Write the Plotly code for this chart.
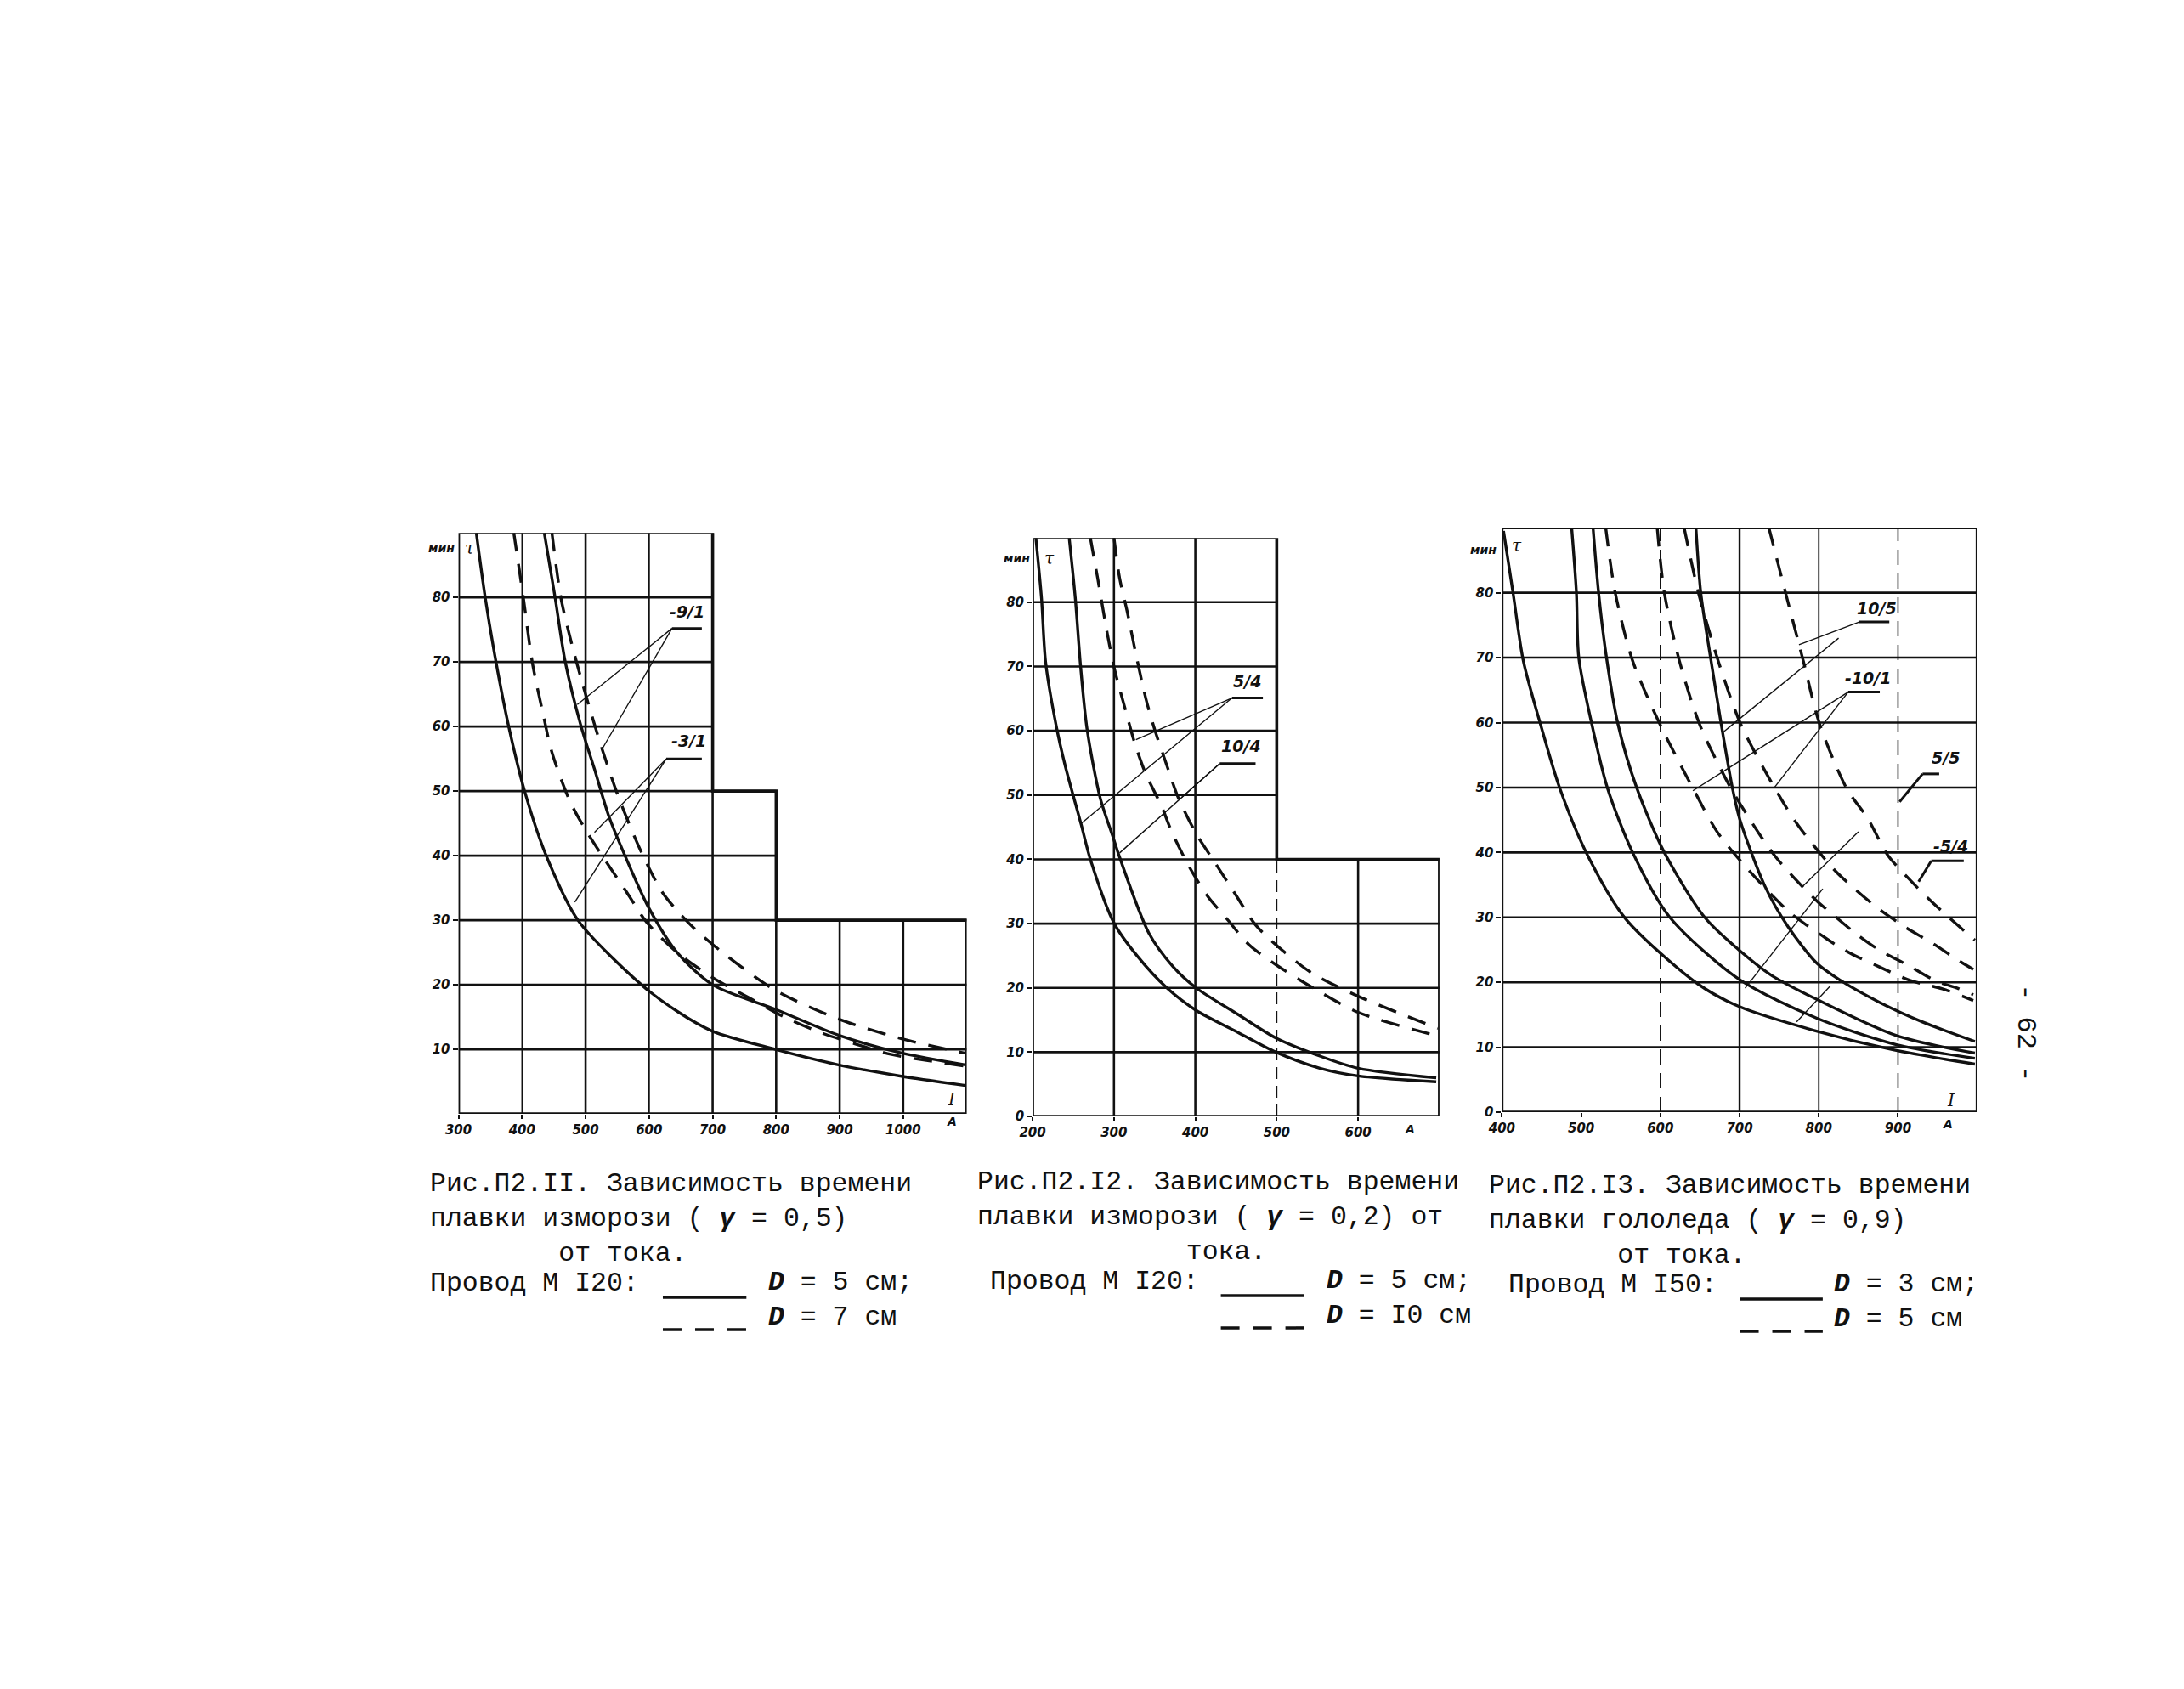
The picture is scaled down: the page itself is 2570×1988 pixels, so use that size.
import plotly.graph_objects as go

W, H = 2570, 1988

# ---------------- Chart 1: Рис. П2.11 (current, A -> time, min) ----------------
C1_S1_I = [328, 342, 359, 379, 404, 438, 488, 588, 644, 700, 799, 898, 999, 1098]
C1_S1_T = [90, 80, 70, 60, 50, 40, 30, 20, 15.9, 12.8, 10, 7.6, 5.8, 4.4]
C1_S2_I = [435, 452, 468, 493, 514, 537, 562, 599, 644, 700, 799, 898, 999, 1098]
C1_S2_T = [90, 80, 70, 60, 53.4, 46, 40, 32, 25, 20, 16.2, 12.2, 9.4, 7.6]
C1_DA_I = [387, 402, 416, 433, 447, 475, 500, 526, 565, 596, 644, 700, 757, 813, 870, 926, 982, 1098]
C1_DA_T = [90, 80, 70, 62, 56, 48.5, 44, 40, 34.3, 29.7, 25, 21.1, 18, 15.0, 12.6, 10.8, 9.2, 7.4]
C1_DB_I = [447, 461, 475, 497, 526, 554, 588, 621, 661, 703, 796, 898, 999, 1098]
C1_DB_T = [90, 80, 74, 66, 56.5, 48.5, 40.5, 34.3, 29.7, 26, 19.3, 14.7, 11.6, 9.4]
C1_XTICKS = [300, 400, 500, 600, 700, 800, 900, 1000]
C1_YTICKS = [10, 20, 30, 40, 50, 60, 70, 80]
C1_STEPS = [(700, 90), (800, 50), (1100, 30)]
C1_LABELS = ["-9/1", "-3/1"]

# ---------------- Chart 2: Рис. П2.12 ----------------
C2_S1_I = [204, 211, 216, 229, 240, 260, 271, 300, 329, 365, 401, 452, 499, 553, 600, 696]
C2_S1_T = [90, 80.6, 70.7, 60.8, 54.6, 45.3, 40, 30.1, 24.9, 20, 16.5, 13.1, 10, 7.5, 6.3, 5.4]
C2_S2_I = [245, 252.5, 259, 267, 283, 299, 307, 343, 372, 401, 452, 499, 553, 600, 696]
C2_S2_T = [90, 80.6, 70, 60.2, 49.6, 43.4, 40.3, 28.5, 23.4, 20, 15.9, 12.2, 9.4, 7.5, 6.0]
C2_D1_I = [271, 280, 292, 301, 314, 325, 339, 358, 372, 394, 416, 437, 466, 499, 542, 600, 698]
C2_D1_T = [90, 83.7, 75, 69.4, 63.3, 58.3, 53.3, 48.4, 44, 38.5, 34.1, 31, 26.7, 23.6, 20.2, 16.2, 12.5]
C2_D2_I = [300, 307, 316, 327, 339, 350, 365, 379, 401, 423, 448, 474, 499, 542, 600, 698]
C2_D2_T = [90, 83.7, 78.7, 71.9, 65.1, 60.2, 54.6, 49.6, 44, 39.7, 34.8, 29.8, 26.7, 22.4, 18.7, 13.7]
C2_XTICKS = [200, 300, 400, 500, 600]
C2_YTICKS = [0, 10, 20, 30, 40, 50, 60, 70, 80]
C2_STEPS = [(500, 90), (700, 40)]
C2_LABELS = ["5/4", "10/4"]

# ---------------- Chart 3: Рис. П2.13 ----------------
C3_S1_I = [402, 414, 427, 449, 473, 508, 556, 648, 699, 794, 894, 997]
C3_S1_T = [89.5, 80, 69.5, 59.6, 49.9, 39.6, 29.8, 19.7, 16.3, 12.6, 9.6, 7.4]
C3_S2_I = [488, 494, 497, 513, 533, 565, 612, 699, 797, 898, 997]
C3_S2_T = [90, 80, 70, 60, 50, 40, 30, 20.5, 14.5, 10.4, 8.3]
C3_S3_I = [515, 522, 532, 546, 570, 605, 656, 699, 740, 797, 898, 997]
C3_S3_T = [90, 80, 70, 60, 50, 40, 30, 25, 21.1, 17.4, 11.8, 9.1]
C3_S4_I = [645, 651, 664, 677, 691, 700, 732, 761, 797, 826, 877, 931, 997]
C3_S4_T = [89.8, 80, 69.5, 59.6, 49.9, 45.2, 34.8, 28.6, 23, 20.4, 16.9, 13.9, 10.9]
C3_D1_I = [531, 543, 565, 600, 641, 671, 704, 761, 786, 804, 825, 844, 876, 915, 956, 995]
C3_D1_T = [90, 80, 69.5, 59.6, 49.9, 43.3, 38.3, 31.0, 28.7, 27.2, 25.5, 24.2, 22.4, 20.3, 19, 17.2]
C3_D2_I = [596, 605, 624, 650, 689, 729, 747, 771, 797, 822, 848, 876, 913, 948, 975, 995]
C3_D2_T = [90, 80, 69.5, 59.6, 49.9, 42.1, 39.1, 35.8, 32.6, 30.0, 27.4, 25.0, 22.6, 20.2, 19.1, 18.1]
C3_D3_I = [630, 648, 673, 702, 744, 772, 819, 848, 876, 909, 945, 977, 995]
C3_D3_T = [90, 80, 69.5, 59.6, 50, 44.5, 37.4, 34.1, 31.3, 28.5, 25.9, 23.3, 22.0]
C3_D4_I = [737, 758, 780, 801, 835, 862, 887, 914, 941, 966, 997]
C3_D4_T = [90, 80, 69.7, 59.8, 49.9, 45.2, 39.6, 35.9, 32.6, 29.8, 26.5]
C3_XTICKS = [400, 500, 600, 700, 800, 900]
C3_YTICKS = [0, 10, 20, 30, 40, 50, 60, 70, 80]
C3_STEPS = [(1000, 90)]
C3_LABELS = ["10/5", "-10/1", "5/5", "-5/4"]

# captions (title block lines, wire line, legend lines)
NB = "\u00a0"
CAP1_TITLE = ["Рис.П2.II. Зависимость времени", "плавки изморози ( <b><i>γ</i></b> = 0,5)", NB * 8 + "от тока."]
CAP1_WIRE = "Провод М I20:"
CAP1_D = ["<b><i>D</i></b> = 5 см;", "<b><i>D</i></b> = 7 см"]
CAP2_TITLE = ["Рис.П2.I2. Зависимость времени", "плавки изморози ( <b><i>γ</i></b> = 0,2) от", NB * 13 + "тока."]
CAP2_WIRE = "Провод М I20:"
CAP2_D = ["<b><i>D</i></b> = 5 см;", "<b><i>D</i></b> = I0 см"]
CAP3_TITLE = ["Рис.П2.I3. Зависимость времени", "плавки гололеда ( <b><i>γ</i></b> = 0,9)", NB * 8 + "от тока."]
CAP3_WIRE = "Провод М I50:"
CAP3_D = ["<b><i>D</i></b> = 3 см;", "<b><i>D</i></b> = 5 см"]
PAGE_NO = "- 62 -"

# ---------------- layout geometry (pixels) ----------------
BOX = {
    "1": dict(x0=518, x1=1120, y0=622, y1=1309, xr=[300, 1100]),
    "2": dict(x0=1198, x1=1680, y0=628, y1=1312, xr=[200, 700]),
    "3": dict(x0=1754, x1=2317, y0=616, y1=1307, xr=[400, 1000]),
}

def px(x):
    return x / W

def py(y):
    return 1 - y / H

fig = go.Figure()

SOLID_W = 3.4
DASH_W = 3.4
DASH = "22px,15px"

def add_curve(ax, xs, ys, dashed):
    fig.add_trace(go.Scatter(
        x=xs, y=ys, mode="lines", xaxis="x" + ax, yaxis="y" + ax,
        line=dict(color="#111", width=DASH_W if dashed else SOLID_W,
                  dash=DASH if dashed else "solid", shape="spline", smoothing=0.8),
        showlegend=False, hoverinfo="skip"))

add_curve("", C1_S1_I, C1_S1_T, False)
add_curve("", C1_S2_I, C1_S2_T, False)
add_curve("", C1_DA_I, C1_DA_T, True)
add_curve("", C1_DB_I, C1_DB_T, True)

add_curve("2", C2_S1_I, C2_S1_T, False)
add_curve("2", C2_S2_I, C2_S2_T, False)
add_curve("2", C2_D1_I, C2_D1_T, True)
add_curve("2", C2_D2_I, C2_D2_T, True)

for xs, ys in [(C3_S1_I, C3_S1_T), (C3_S2_I, C3_S2_T), (C3_S3_I, C3_S3_T), (C3_S4_I, C3_S4_T)]:
    add_curve("3", xs, ys, False)
for xs, ys in [(C3_D1_I, C3_D1_T), (C3_D2_I, C3_D2_T), (C3_D3_I, C3_D3_T), (C3_D4_I, C3_D4_T)]:
    add_curve("3", xs, ys, True)

shapes = []
GRID_W = 2.6
BORDER_W = 3.6

def grid(ax, xr, xticks, ytop, steps, vstyle=None):
    vstyle = vstyle or {}
    xref, yref = "x" + ax, "y" + ax
    x0 = xr[0]

    def xmax_at(y):
        return max(xr_ for xr_, yt in steps if yt >= y)

    def ymax_at(x):
        return max(yt for xr_, yt in steps if xr_ >= x)

    for y in range(10, ytop, 10):
        xe = xmax_at(y)
        shapes.append(dict(type="line", xref=xref, yref=yref, x0=x0, x1=xe, y0=y, y1=y,
                           line=dict(color="#111", width=GRID_W), layer="below"))
    for x in xticks[1:]:
        st = vstyle.get(x, {})
        ye = st.get("ymax", ymax_at(x))
        if x >= steps[-1][0] or ye <= 0:
            continue
        shapes.append(dict(type="line", xref=xref, yref=yref, x0=x, x1=x, y0=0, y1=ye,
                           line=dict(color="#111", width=st.get("w", GRID_W),
                                     dash=st.get("dash", "solid")), layer="below"))
    path = "M %s,0 L %s,%s" % (x0, x0, ytop)
    prev_top = ytop
    for i, (xr_, yt) in enumerate(steps):
        path += " L %s,%s" % (xr_, prev_top)
        nxt = steps[i + 1][1] if i + 1 < len(steps) else 0
        path += " L %s,%s" % (xr_, nxt)
        prev_top = nxt
    path += " Z"
    shapes.append(dict(type="path", xref=xref, yref=yref, path=path,
                       line=dict(color="#111", width=BORDER_W), layer="below"))

grid("", BOX["1"]["xr"], C1_XTICKS, 90, C1_STEPS, {400: {"w": 1.6}, 600: {"w": 1.8}})
grid("2", BOX["2"]["xr"], C2_XTICKS, 90, C2_STEPS, {500: {"w": 1.6, "dash": "14px,8px", "ymax": 40}})
grid("3", BOX["3"]["xr"], C3_XTICKS, 90, C3_STEPS,
     {500: {"ymax": 0}, 600: {"w": 1.6, "dash": "18px,10px"}, 700: {"w": 2.4},
      800: {"w": 1.8}, 900: {"w": 1.6, "dash": "18px,10px"}})

def leader(ax, x0, y0, x1, y1, w=1.4):
    shapes.append(dict(type="line", xref="x" + ax, yref="y" + ax, x0=x0, y0=y0, x1=x1, y1=y1,
                       line=dict(color="#111", width=w)))

# chart 1
leader("", 636, 75.2, 683, 75.2, 3)
leader("", 636, 75.2, 487, 63.4)
leader("", 636, 75.2, 526, 56.5)
leader("", 627, 55, 683, 55, 3)
leader("", 627, 55, 514, 43.6)
leader("", 627, 55, 483, 32.8)
# chart 2
leader("2", 445, 65.1, 483, 65.1, 3)
leader("2", 445, 65.1, 327, 58.6)
leader("2", 445, 65.1, 260, 45.6)
leader("2", 430, 54.9, 474, 54.9, 3)
leader("2", 430, 54.9, 383, 49.6)
leader("2", 430, 54.9, 307, 41.0)
# chart 3
leader("3", 851, 75.5, 889, 75.5, 3)
leader("3", 851, 75.5, 775, 72)
leader("3", 825, 73, 679, 58.5)
leader("3", 837, 64.7, 877, 64.7, 3)
leader("3", 837, 64.7, 641, 49.5)
leader("3", 837, 64.7, 744, 50)
leader("3", 931, 52.1, 952, 52.1, 3)
leader("3", 931, 52.1, 902, 47.8, 3)
leader("3", 942, 38.7, 983, 38.7, 3)
leader("3", 942, 38.7, 926, 35.5, 3)
leader("3", 850, 43.2, 780, 34.8)
leader("3", 805, 34.4, 707, 19.1)
leader("3", 815, 19.5, 772, 13.9)

def sample(x0, x1, y, dashed):
    shapes.append(dict(type="line", xref="paper", yref="paper", x0=px(x0), x1=px(x1), y0=py(y), y1=py(y),
                       line=dict(color="#111", width=3.5, dash="22px,16px" if dashed else "solid")))

sample(760, 859, 1526, False)
sample(760, 859, 1564, True)
sample(1421, 1520, 1524, False)
sample(1421, 1520, 1562, True)
sample(2036, 2134, 1528, False)
sample(2036, 2134, 1566, True)

annotations = []
CAP_FONT = dict(family="Liberation Mono, DejaVu Sans Mono, monospace", size=31.5, color="#111")

def text(x, y, s, font, xanchor="left", angle=0, align="left"):
    annotations.append(dict(xref="paper", yref="paper", x=px(x), y=py(y), text=s, showarrow=False,
                            xanchor=xanchor, yanchor="middle", font=font, textangle=angle, align=align))

def caption(title, wire, dlines, tx, ty, wx, dx, dy):
    text(tx, ty, "<br>".join(title), CAP_FONT)
    text(wx, dy - 20, wire, CAP_FONT)
    text(dx, dy, "<br>".join(dlines), CAP_FONT)

caption(CAP1_TITLE, CAP1_WIRE, CAP1_D, 482, 1433, 482, 883, 1529)
caption(CAP2_TITLE, CAP2_WIRE, CAP2_D, 1130, 1431, 1146, 1544, 1527)
caption(CAP3_TITLE, CAP3_WIRE, CAP3_D, 1736, 1435, 1760, 2145, 1531)
text(2374, 1213, PAGE_NO, dict(family="Liberation Mono, monospace", size=32, color="#111"),
     xanchor="center", angle=90)

SMALL = dict(family="DejaVu Sans", size=15, color="#111", style="italic", weight="bold")
LBL = dict(family="DejaVu Sans", size=19, color="#111", style="italic", weight="bold")

def dtext(ax, x, y, s, font=LBL, xanchor="center"):
    annotations.append(dict(xref="x" + ax, yref="y" + ax, x=x, y=y, text=s, showarrow=False,
                            xanchor=xanchor, yanchor="middle", font=font))

dtext("", 660, 77.8, C1_LABELS[0])
dtext("", 662, 57.8, C1_LABELS[1])
dtext("2", 464, 67.7, C2_LABELS[0])
dtext("2", 456, 57.6, C2_LABELS[1])
dtext("3", 873, 77.6, C3_LABELS[0])
dtext("3", 862, 66.9, C3_LABELS[1])
dtext("3", 960, 54.6, C3_LABELS[2])
dtext("3", 967, 41.0, C3_LABELS[3])

UNIT = dict(family="DejaVu Sans", size=14, color="#111", style="italic", weight="bold")
SYM = dict(family="DejaVu Serif", size=20, color="#111", style="italic")

def btext(key, dxp, yp, s, font):
    text(BOX[key]["x0"] + dxp, yp, s, font, xanchor="center")

btext("1", -20, 640, "мин", UNIT)
btext("1", 14, 640, "τ", SYM)
btext("1", 584, 1292, "I", SYM)
btext("1", 584, 1318, "A", UNIT)
btext("2", -19, 652, "мин", UNIT)
btext("2", 20, 652, "τ", SYM)
btext("2", 447, 1327, "A", UNIT)
btext("3", -22, 642, "мин", UNIT)
btext("3", 18, 637, "τ", SYM)
btext("3", 532, 1293, "I", SYM)
btext("3", 528, 1321, "A", UNIT)

def xaxis(key, ticks):
    b = BOX[key]
    return dict(domain=[px(b["x0"]), px(b["x1"])], range=b["xr"], showgrid=False, zeroline=False,
                showline=False, tickvals=ticks, ticktext=[str(t) for t in ticks], ticks="outside",
                ticklen=5, tickwidth=2, tickcolor="#111", tickfont=SMALL, fixedrange=True,
                anchor="y" + ("" if key == "1" else key))

def yaxis(key, ticks):
    b = BOX[key]
    return dict(domain=[py(b["y1"]), py(b["y0"])], range=[0, 90], showgrid=False, zeroline=False,
                showline=False, tickvals=ticks, ticktext=[str(t) for t in ticks], ticks="outside",
                ticklen=6, tickwidth=2, tickcolor="#111", tickfont=SMALL, fixedrange=True,
                anchor="x" + ("" if key == "1" else key))

fig.update_layout(
    width=W, height=H, margin=dict(l=0, r=0, t=0, b=0),
    paper_bgcolor="white", plot_bgcolor="rgba(0,0,0,0)", showlegend=False,
    xaxis=xaxis("1", C1_XTICKS), yaxis=yaxis("1", C1_YTICKS),
    xaxis2=xaxis("2", C2_XTICKS), yaxis2=yaxis("2", C2_YTICKS),
    xaxis3=xaxis("3", C3_XTICKS), yaxis3=yaxis("3", C3_YTICKS),
    shapes=shapes, annotations=annotations,
)

fig.write_html("out.html")
